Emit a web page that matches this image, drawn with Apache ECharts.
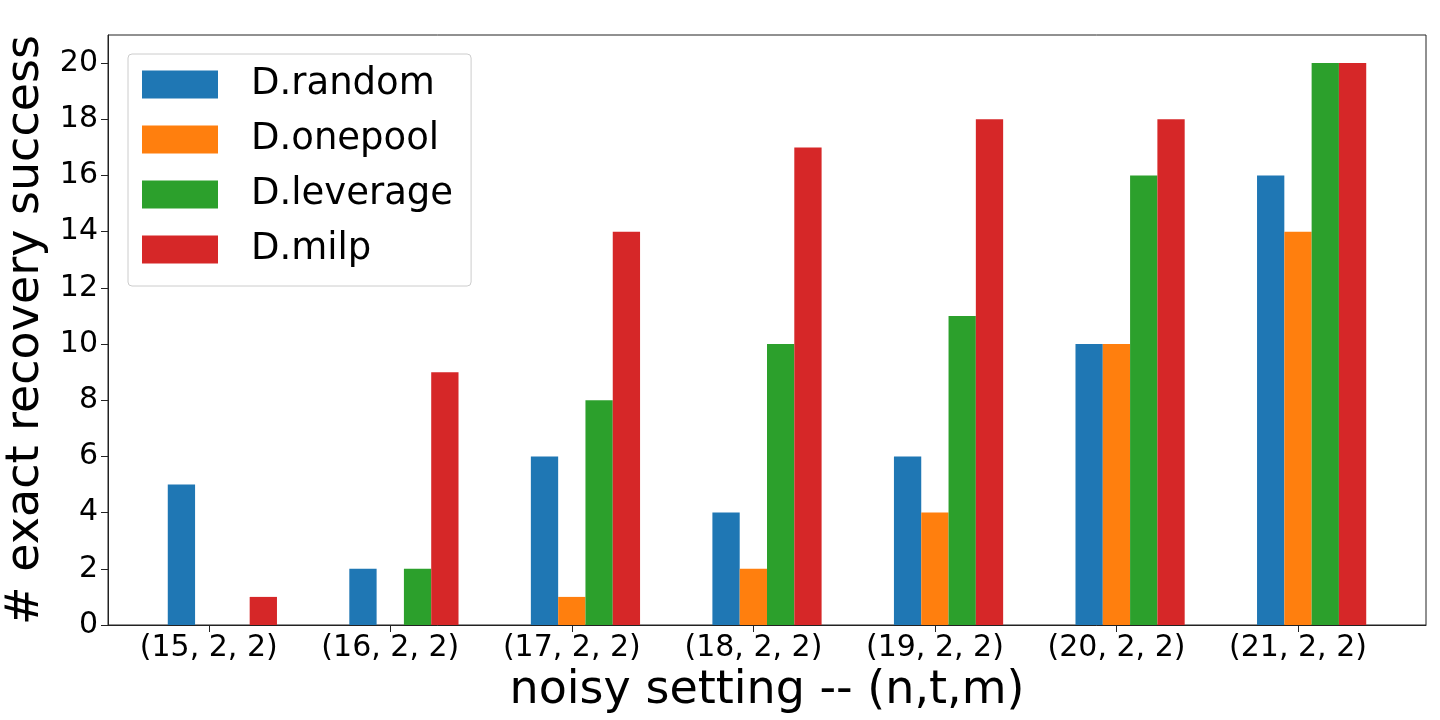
<!DOCTYPE html>
<html>
<head>
<meta charset="utf-8">
<script src="https://cdn.jsdelivr.net/npm/echarts@6/dist/echarts.min.js"></script>
<style>
html, body { margin: 0; padding: 0; background: #fff; }
#main { width: 1440px; height: 720px; }
</style>
</head>
<body>
<div id="main"></div>
<script>
var categories = ['(15, 2, 2)', '(16, 2, 2)', '(17, 2, 2)', '(18, 2, 2)', '(19, 2, 2)', '(20, 2, 2)', '(21, 2, 2)'];
var seriesNames = ['D.random', 'D.onepool', 'D.leverage', 'D.milp'];
var randomVals = [5, 2, 6, 4, 6, 10, 16];
var onepoolVals = [0, 0, 1, 2, 4, 10, 14];
var leverageVals = [0, 2, 8, 10, 11, 16, 20];
var milpVals = [1, 9, 14, 17, 18, 18, 20];
var yTicks = [0, 2, 4, 6, 8, 10, 12, 14, 16, 18, 20];

var colors = ['#1f77b4', '#ff7f0e', '#2ca02c', '#d62728'];
var font = 'DejaVu Sans';

// matplotlib ticks sit on the second bar of each group, not on the group center
var tickShift = 0.075;
var xTicks = categories.map(function (c, i) { return i - tickShift; });

function toPoints(vals) {
	return vals.map(function (v, i) { return [i, v]; });
}

var allVals = [randomVals, onepoolVals, leverageVals, milpVals];
var series = [];
for (var k = 0; k < seriesNames.length; k++) {
	series.push({
		name: seriesNames[k],
		type: 'bar',
		data: toPoints(allVals[k]),
		barWidth: 27.3,
		barGap: '0%',
		itemStyle: { color: colors[k] }
	});
}

var chart = echarts.init(document.getElementById('main'));
chart.setOption({
	animation: false,
	textStyle: { fontFamily: font },
	grid: {
		left: 108, right: 14, top: 35, bottom: 95,
		outerBoundsMode: 'none',
		containLabel: false,
		show: true, borderColor: '#222', borderWidth: 1
	},
	legend: {
		orient: 'vertical',
		left: 128, top: 54,
		padding: [12, 18, 18, 14],
		itemWidth: 76, itemHeight: 28, itemGap: 18,
		icon: 'rect',
		backgroundColor: 'rgba(255,255,255,0.8)',
		borderColor: '#cccccc', borderWidth: 1, borderRadius: 4,
		textStyle: { fontFamily: font, fontSize: 37, color: '#000', padding: [5, 0, 0, 28] },
		data: seriesNames
	},
	xAxis: {
		type: 'value',
		min: -0.63, max: 6.63,
		splitLine: { show: false },
		axisLine: { show: true, onZero: false, lineStyle: { color: '#222' } },
		axisTick: { show: true, customValues: xTicks, length: 7, lineStyle: { color: '#222' } },
		axisLabel: {
			customValues: xTicks,
			fontSize: 30, color: '#000', margin: 8,
			formatter: function (v) { return categories[Math.round(v + tickShift)]; }
		},
		name: 'noisy setting -- (n,t,m)',
		nameLocation: 'middle',
		nameGap: 37,
		nameTextStyle: { fontSize: 46, color: '#000', fontFamily: font }
	},
	yAxis: {
		type: 'value',
		min: 0, max: 21,
		splitLine: { show: false },
		axisLine: { show: true, onZero: false, lineStyle: { color: '#222' } },
		axisTick: { show: true, customValues: yTicks, length: 7, lineStyle: { color: '#222' } },
		axisLabel: { customValues: yTicks, fontSize: 30, color: '#000', margin: 10 },
		name: '# exact recovery success',
		nameLocation: 'middle',
		nameGap: 55,
		nameTextStyle: { fontSize: 46, color: '#000', fontFamily: font }
	},
	series: series
});
</script>
</body>
</html>
